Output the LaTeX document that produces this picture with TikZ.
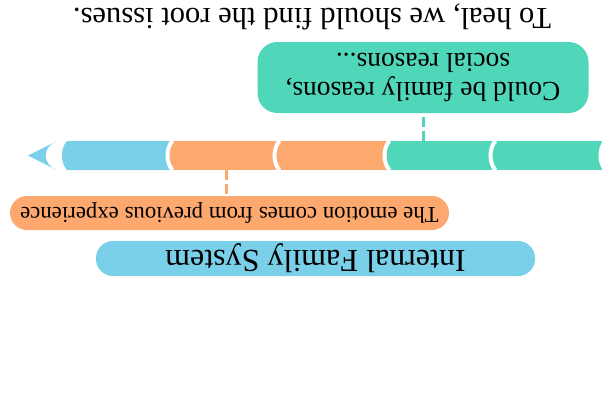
\documentclass[tikz,border=0pt]{standalone}
\usepackage{fontspec}
\setmainfont{Liberation Serif}
\usetikzlibrary{calc}
\definecolor{skyb}{HTML}{7ACFE9}
\definecolor{peach}{HTML}{FCA86F}
\definecolor{mint}{HTML}{50D6B8}
\newcommand{\notch}[1]{\draw[white,line width=4pt] (#1+5,141) .. controls (#1-1.7,148) and (#1-1.7,163) .. (#1+5,170);}
\tikzset{pill/.style={rotate=180,rounded corners=17pt,inner sep=0pt,align=center,text=black},
  dashlink/.style={line width=3pt,dash pattern=on 10pt off 4pt}}

\begin{document}
\begin{tikzpicture}[x=1pt,y=-1pt]
\useasboundingbox (0,0) rectangle (612,408);
% the time bar, read from the arrow tip
\fill[skyb] (28,155.5) -- (57,141) .. controls (42,146) and (42,165) .. (57,170) -- cycle;
\fill[skyb] (67,141) -- (170,141) -- (170,170) -- (67,170) .. controls (60.3,163) and (60.3,148) .. cycle;
\fill[peach] (170,141) rectangle (387,170); \fill[mint] (387,141) rectangle (602,170);
\notch{167.5} \notch{274.5} \notch{384.5} \notch{490.5} \notch{600.5}
\coordinate (gtop) at (423,141); \coordinate (obot) at (226,170);
% call-outs
\node[rotate=180,inner sep=0pt,font=\fontsize{30.6}{34}\selectfont] (heal) at (312,17) {To heal, we should find the root issues.};
\node[pill,fill=mint,rounded corners=20pt,minimum width=331pt,minimum height=71pt,font=\fontsize{27.5}{29.5}\selectfont] (callG) at (423,77.5) {Could be family reasons,\\social reasons...};
\node[pill,fill=peach,minimum width=439pt,minimum height=34pt,font=\fontsize{22.8}{26}\selectfont] (callO) at (229.5,213) {The emotion comes from previous experience};
\node[pill,fill=skyb,minimum width=439pt,minimum height=35pt,font=\fontsize{32}{36}\selectfont] (ifs) at (315.5,258.5) {Internal Family System};
\draw[dashlink,mint,dash phase=10pt] (callG.north) -- (callG.north |- gtop);
\draw[dashlink,peach] (obot) -- (obot |- callO.south);
\end{tikzpicture}
\end{document}
